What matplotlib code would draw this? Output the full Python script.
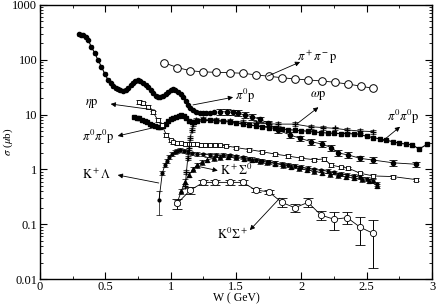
import numpy as np
import matplotlib
matplotlib.use('Agg')
import matplotlib.pyplot as plt
from matplotlib.ticker import FixedLocator, FuncFormatter, LogLocator, NullFormatter

plt.rcParams['font.family'] = ['Liberation Serif', 'DejaVu Serif']
plt.rcParams['mathtext.fontset'] = 'stix'

# --- data ---
# pi0 p (dense part)
pi0p_x = [0.30, 0.315, 0.33, 0.35, 0.367, 0.392, 0.418, 0.443, 0.469, 0.494, 0.52, 0.54, 0.558,
          0.578, 0.596, 0.615, 0.635, 0.655, 0.673, 0.692, 0.711, 0.73, 0.749, 0.768, 0.788,
          0.807, 0.826, 0.845, 0.865, 0.885, 0.903, 0.92, 0.94, 0.96, 0.98, 1.0, 1.017, 1.036,
          1.056, 1.075, 1.094, 1.113, 1.133, 1.15, 1.17, 1.195, 1.22, 1.245, 1.27, 1.30, 1.33]
pi0p_y = [290, 285, 278, 255, 230, 173, 132, 99, 75, 56, 43, 37, 33,
          30, 29, 28, 27, 28.5, 31, 34.5, 38, 40.5, 42, 40.5, 38,
          35, 31.6, 28, 24.5, 22, 21, 21, 22, 24, 26, 28, 29, 28,
          26, 23.5, 20.7, 17.5, 15, 13.3, 12, 11.3, 10.8, 10.6, 10.6, 10.8, 11]
# pi0 p (sparser part with larger errors)
pi0p2_x = [1.38, 1.43, 1.48, 1.515, 1.567, 1.618, 1.682, 1.746, 1.823, 1.912, 1.988, 2.077,
           2.155, 2.23, 2.28, 2.36, 2.45, 2.55, 2.70, 2.88]
pi0p2_y = [11.3, 11.2, 11.0, 10.6, 9.8, 9.2, 8.2, 6.9, 5.2, 4.25, 3.7, 3.2,
           2.9, 2.5, 2.0, 1.83, 1.59, 1.48, 1.32, 1.24]

# pi0 pi0 p
pi0pi0p_x = [0.72, 0.74, 0.76, 0.78, 0.80, 0.82, 0.84, 0.86, 0.88, 0.90, 0.92, 0.94, 0.96, 0.98,
             1.00, 1.02, 1.04, 1.06, 1.08, 1.10, 1.12, 1.14, 1.16, 1.18, 1.20, 1.25, 1.30, 1.35,
             1.40, 1.45, 1.50, 1.55, 1.60, 1.65, 1.70, 1.75, 1.80, 1.85, 1.90, 1.95, 2.00, 2.05,
             2.10, 2.15, 2.20, 2.25, 2.30, 2.35, 2.40, 2.45, 2.50, 2.55, 2.60, 2.65, 2.70, 2.75,
             2.80, 2.85, 2.90, 2.96]
pi0pi0p_y = [8.9, 8.7, 8.5, 8.1, 7.7, 7.2, 6.7, 6.4, 6.2, 6.0, 6.0, 6.3, 6.8, 7.5,
             8.2, 8.8, 9.2, 9.6, 9.8, 9.5, 8.5, 7.6, 7.3, 7.3, 7.5, 7.8, 7.8, 7.7,
             7.5, 7.3, 7.0, 6.8, 6.5, 6.2, 6.0, 5.8, 5.6, 5.45, 5.3, 5.2, 5.1, 4.95,
             4.8, 4.7, 4.6, 4.55, 4.5, 4.5, 4.45, 4.35, 4.0, 3.8, 3.6, 3.4, 3.2, 3.0,
             2.9, 2.8, 2.35, 2.85]

# pi+ pi- p
pipip_x = [0.95, 1.05, 1.15, 1.25, 1.35, 1.45, 1.55, 1.65, 1.75, 1.85, 1.95, 2.05, 2.155,
           2.255, 2.355, 2.455, 2.55]
pipip_y = [88, 72, 63, 60, 59, 58, 56.7, 53, 50, 47, 44.6, 42.8, 41, 38.8, 36, 33, 30]

# eta p
etap_x = [0.76, 0.79, 0.826, 0.865, 0.90, 0.93, 0.967, 1.0, 1.017, 1.05, 1.08, 1.11, 1.14, 1.17,
          1.20, 1.23, 1.26, 1.30, 1.34, 1.38, 1.42, 1.5, 1.6, 1.7, 1.8, 1.9, 2.0, 2.1, 2.17,
          2.23, 2.3, 2.36, 2.45, 2.55, 2.7, 2.88]
etap_y = [17, 16, 14, 11, 8, 6.5, 4.25, 3.4, 3.1, 3.0, 3.0, 2.95, 2.9, 2.9,
          2.85, 2.8, 2.8, 2.8, 2.8, 2.75, 2.7, 2.5, 2.3, 2.1, 1.9, 1.75, 1.6, 1.5, 1.55,
          1.2, 1.1, 1.05, 0.85, 0.76, 0.74, 0.65]

# omega p
omegap_x = [1.11, 1.12, 1.13, 1.14, 1.15, 1.16, 1.17, 1.19, 1.25, 1.35, 1.45, 1.55, 1.65, 1.75,
            1.82, 1.95, 2.07, 2.165, 2.26, 2.35, 2.45, 2.55]
omegap_y = [0.5, 0.9, 1.6, 2.5, 3.8, 5.2, 6.8, 8.0, 8.3, 8.0, 7.6, 7.3, 7.0, 6.8,
            6.7, 6.7, 6.0, 5.8, 5.6, 5.25, 5.0, 4.9]

# K+ Lambda
klam_x = [0.91, 0.935, 0.955, 0.97, 0.99, 1.01, 1.03, 1.05, 1.07, 1.10, 1.13, 1.16, 1.20, 1.25,
          1.30, 1.35, 1.40, 1.45, 1.50, 1.55, 1.60, 1.65, 1.70, 1.75, 1.80, 1.85, 1.90, 1.95,
          2.00, 2.05, 2.10, 2.15, 2.20, 2.25, 2.30, 2.35, 2.40, 2.45, 2.50, 2.55, 2.58]
klam_y = [0.28, 0.85, 1.2, 1.45, 1.7, 1.9, 2.05, 2.2, 2.3, 2.2, 2.05, 1.95, 1.9, 1.88,
          1.85, 1.85, 1.82, 1.8, 1.72, 1.65, 1.58, 1.5, 1.45, 1.38, 1.3, 1.25, 1.2, 1.15,
          1.1, 1.05, 1.0, 0.96, 0.93, 0.88, 0.83, 0.8, 0.76, 0.72, 0.68, 0.62, 0.55]

# K+ Sigma0
ksig0_x = [1.05, 1.08, 1.11, 1.14, 1.17, 1.20, 1.24, 1.28, 1.33, 1.38, 1.44, 1.50, 1.56, 1.62,
           1.68, 1.74, 1.80, 1.86, 1.92, 1.98, 2.04, 2.10, 2.16, 2.22, 2.28, 2.34, 2.40, 2.46,
           2.52, 2.58]
ksig0_y = [0.25, 0.4, 0.6, 0.8, 1.0, 1.2, 1.35, 1.5, 1.6, 1.68, 1.7, 1.65, 1.58, 1.5,
           1.42, 1.35, 1.28, 1.2, 1.12, 1.05, 0.98, 0.92, 0.87, 0.82, 0.78, 0.74, 0.7, 0.66,
           0.62, 0.5]

# K0 Sigma+
k0sig_x = [1.05, 1.15, 1.25, 1.34, 1.45, 1.55, 1.65, 1.75, 1.85, 1.95, 2.05, 2.15, 2.25, 2.35,
           2.45, 2.55]
k0sig_y = [0.24, 0.42, 0.58, 0.58, 0.58, 0.58, 0.42, 0.39, 0.25, 0.2, 0.25, 0.147, 0.123,
           0.132, 0.088, 0.068]
k0sig_e = [0.05, 0.06, 0.06, 0.06, 0.06, 0.06, 0.04, 0.04, 0.045, 0.035, 0.045, 0.03, 0.044,
           0.033, 0.046, 0.052]

fig = plt.figure(figsize=(4.36, 3.06), dpi=100)
ax = fig.add_axes([0.092, 0.088, 0.899, 0.896])

k = 'black'
ax.errorbar(pi0p_x, pi0p_y, yerr=np.array(pi0p_y) * 0.06, fmt='o-', color=k, ms=3, lw=0.8,
            elinewidth=0.5, capsize=1.5, capthick=0.5)
ax.errorbar(pi0p2_x, pi0p2_y, yerr=np.array(pi0p2_y) * 0.12, fmt='o-', color=k, ms=3, lw=0.6,
            elinewidth=0.6, capsize=3, capthick=0.6)
ax.errorbar(pi0pi0p_x, pi0pi0p_y, yerr=np.array(pi0pi0p_y) * 0.03, fmt='s-', color=k, ms=3.2,
            lw=0.8, elinewidth=0.5, capsize=1, capthick=0.5)
ax.plot(pipip_x, pipip_y, 'o-', color=k, mfc='white', ms=5.5, lw=0.6, mew=0.7)
ax.errorbar(etap_x, etap_y, yerr=np.array(etap_y) * 0.07, fmt='s-', color=k, mfc='white',
            ms=2.8, lw=0.6, mew=0.6, elinewidth=0.5, capsize=2.2, capthick=0.5)
ax.errorbar(omegap_x, omegap_y, yerr=np.array(omegap_y) * 0.08, fmt='+-', color=k, ms=4,
            lw=0.6, elinewidth=0.5, capsize=2, capthick=0.5)
ax.errorbar(klam_x, klam_y, yerr=[0.13] + list(np.array(klam_y[1:]) * 0.08), fmt='o-', color=k,
            ms=2, lw=0.6, elinewidth=0.5, capsize=2, capthick=0.5)
ax.errorbar(ksig0_x, ksig0_y, yerr=np.array(ksig0_y) * 0.1, fmt='^-', color=k, ms=2.8,
            lw=0.6, elinewidth=0.5, capsize=2.2, capthick=0.5)
ax.errorbar(k0sig_x, k0sig_y, yerr=k0sig_e, fmt='o-', color=k, mfc='white', ms=4.5,
            lw=0.6, mew=0.6, elinewidth=0.7, capsize=3.5, capthick=0.7)

# labels with arrows (arrow head at the label)
arr = dict(arrowstyle='-|>', color=k, lw=0.6, mutation_scale=7, shrinkA=0, shrinkB=0)
notes = [
    (r'$\eta\mathrm{p}$', (0.40, 15.6), (0.54, 15.6), (0.877, 12.1)),
    (r'$\pi^0\pi^0\mathrm{p}$', (0.44, 3.9), (0.594, 4.07), (0.893, 5.95)),
    (r'$\mathrm{K}^+\Lambda$', (0.43, 0.8), (0.594, 0.79), (0.908, 0.565)),
    (r'$\pi^+\pi^-\mathrm{p}$', (2.12, 112), (1.99, 91), (1.74, 50)),
    (r'$\pi^0\mathrm{p}$', (1.57, 21.5), (1.477, 20.7), (1.17, 15)),
    (r'$\omega\mathrm{p}$', (2.13, 22), (2.13, 13.6), (1.963, 6.7)),
    (r'$\pi^0\pi^0\mathrm{p}$', (2.78, 9.2), (2.755, 6.0), (2.615, 3.2)),
    (r'$\mathrm{K}^0\Sigma^+$', (1.47, 0.065), (1.605, 0.078), (1.835, 0.30)),
]
for txt, tpos, head, tail in notes:
    ax.annotate('', xy=head, xytext=tail, arrowprops=arr)
    ax.text(tpos[0], tpos[1], txt, ha='center', va='center', fontsize=9)
ax.annotate('', xy=(1.36, 0.95), xytext=(1.22, 1.12), arrowprops=arr)
ax.text(1.375, 0.95, r'$\mathrm{K}^+\Sigma^0$', ha='left', va='center', fontsize=9)

ax.set_yscale('log')
ax.set_xlim(0, 3)
ax.set_ylim(0.01, 1000)
ax.xaxis.set_major_locator(FixedLocator([0, 0.5, 1, 1.5, 2, 2.5, 3]))
ax.xaxis.set_minor_locator(FixedLocator([0.25, 0.75, 1.25, 1.75, 2.25, 2.75]))
ax.xaxis.set_major_formatter(FuncFormatter(lambda v, p: '%g' % v))
ax.yaxis.set_major_locator(LogLocator(base=10, numticks=10))
ax.yaxis.set_minor_locator(LogLocator(base=10, subs=np.arange(2, 10), numticks=20))
ax.yaxis.set_major_formatter(FuncFormatter(lambda v, p: '%g' % v))
ax.yaxis.set_minor_formatter(NullFormatter())
ax.tick_params(which='both', direction='in', top=True, right=True, labelsize=9)
ax.tick_params(axis='x', pad=1.5)
ax.tick_params(axis='y', pad=2)
ax.tick_params(which='major', length=5, width=0.8)
ax.tick_params(which='minor', length=2.5, width=0.6)
for s in ax.spines.values():
    s.set_linewidth(1.0)

ax.set_xlabel('W ( GeV)', fontsize=8.5)
ax.set_ylabel(r'$\sigma$ ($\mu$b)', fontsize=8)
ax.xaxis.set_label_coords(0.5, -0.048)
ax.yaxis.set_label_coords(-0.064, 0.5)

fig.savefig('out.png', dpi=100)
